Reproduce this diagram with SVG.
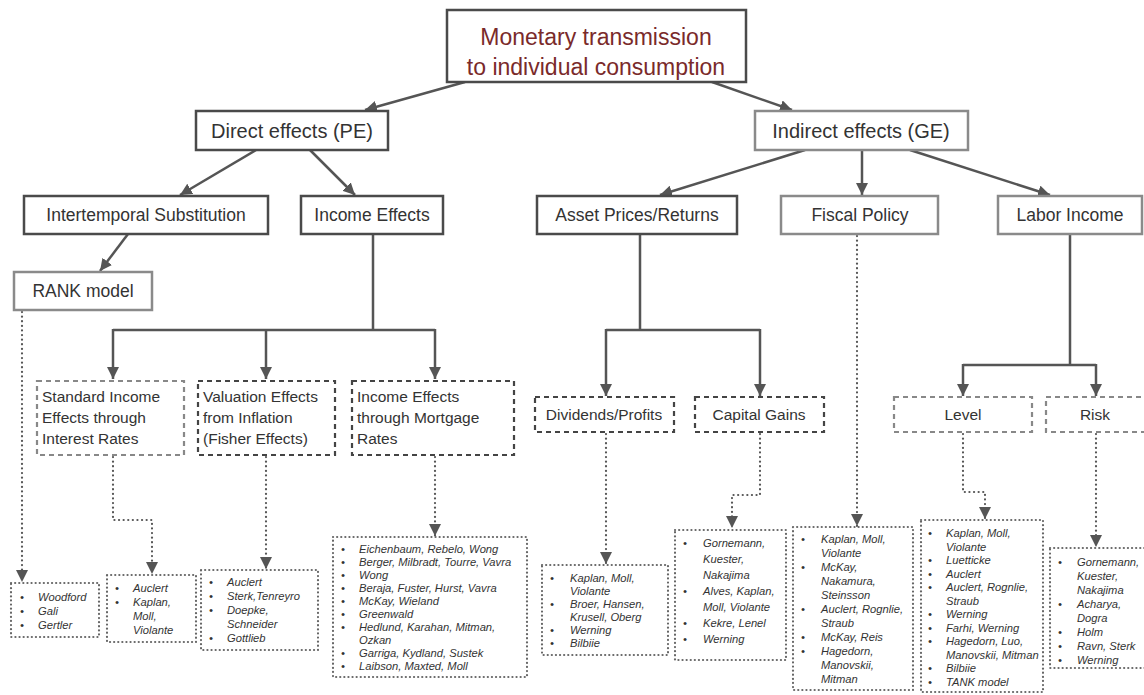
<svg xmlns="http://www.w3.org/2000/svg" width="1144" height="695" viewBox="0 0 1144 695">
<style>
text{font-family:"Liberation Sans",Arial,sans-serif;fill:#333}
.top{font-size:23px;fill:#7a2a2a;text-anchor:middle}
.l1{font-size:20px;text-anchor:middle}
.l2{font-size:17.5px;text-anchor:middle}
.l3{font-size:15.5px}
.c{text-anchor:middle}
.ref{font-size:11.2px;font-style:italic;fill:#505050}
.dark{fill:#fff;stroke:#4a4a4a;stroke-width:2.5}
.light{fill:#fff;stroke:#8a8a8a;stroke-width:2.5}
.dashd{fill:#fff;stroke:#444;stroke-width:2.2;stroke-dasharray:5 4}
.dashl{fill:#fff;stroke:#888;stroke-width:2.2;stroke-dasharray:5 4}
.dot{fill:#fff;stroke:#666;stroke-width:2.2;stroke-dasharray:0.1 4;stroke-linecap:round}
.solid{fill:none;stroke:#555;stroke-width:2.5}
.dotl{fill:none;stroke:#555;stroke-width:2.2;stroke-dasharray:0.1 4.5;stroke-linecap:round}
</style>
<defs>
<marker id="ah" viewBox="0 0 10 10" refX="10" refY="5" markerWidth="12" markerHeight="12" markerUnits="userSpaceOnUse" orient="auto">
<path d="M0,0 L10,5 L0,10 z" fill="#555"/>
</marker>
</defs>
<rect width="1144" height="695" fill="#fff"/>

<g id="connectors">
<line class="solid" x1="465" y1="82" x2="365" y2="110" marker-end="url(#ah)"/>
<line class="solid" x1="712" y1="82" x2="792" y2="110" marker-end="url(#ah)"/>
<line class="solid" x1="256" y1="150" x2="180" y2="195" marker-end="url(#ah)"/>
<line class="solid" x1="310" y1="150" x2="355" y2="195" marker-end="url(#ah)"/>
<line class="solid" x1="128" y1="234" x2="100" y2="271" marker-end="url(#ah)"/>
<line class="solid" x1="805" y1="150" x2="660" y2="195" marker-end="url(#ah)"/>
<line class="solid" x1="862" y1="150" x2="862" y2="195" marker-end="url(#ah)"/>
<line class="solid" x1="910" y1="150" x2="1050" y2="195" marker-end="url(#ah)"/>
<path class="solid" d="M373,234 V330 M113,330 H435"/>
<line class="solid" x1="113" y1="329" x2="113" y2="379" marker-end="url(#ah)"/>
<line class="solid" x1="266" y1="330" x2="266" y2="379" marker-end="url(#ah)"/>
<line class="solid" x1="435" y1="329" x2="435" y2="379" marker-end="url(#ah)"/>
<path class="solid" d="M640,234 V330 M606,330 H760"/>
<line class="solid" x1="606" y1="329" x2="606" y2="396" marker-end="url(#ah)"/>
<line class="solid" x1="760" y1="329" x2="760" y2="396" marker-end="url(#ah)"/>
<path class="solid" d="M1070,234 V365 M963,365 H1096"/>
<line class="solid" x1="963" y1="364" x2="963" y2="396" marker-end="url(#ah)"/>
<line class="solid" x1="1096" y1="364" x2="1096" y2="396" marker-end="url(#ah)"/>
<path class="dotl" d="M22,312 V582" marker-end="url(#ah)"/>
<path class="dotl" d="M113,457 V520 H152 V574" marker-end="url(#ah)"/>
<path class="dotl" d="M266,457 V569" marker-end="url(#ah)"/>
<path class="dotl" d="M435,457 V536" marker-end="url(#ah)"/>
<path class="dotl" d="M606,434 V564" marker-end="url(#ah)"/>
<path class="dotl" d="M760,434 V495 H732 V528" marker-end="url(#ah)"/>
<path class="dotl" d="M857,236 V526" marker-end="url(#ah)"/>
<path class="dotl" d="M963,434 V492 H985 V519" marker-end="url(#ah)"/>
<path class="dotl" d="M1096,434 V547" marker-end="url(#ah)"/>
</g>

<g id="n-root"><rect class="dark" x="447" y="10" width="299" height="72"/>
<text class="top" x="596" y="45">Monetary transmission</text>
<text class="top" x="596" y="75">to individual consumption</text></g>

<g id="n-direct"><rect class="dark" x="196" y="111" width="192" height="39"/><text class="l1" x="292" y="138">Direct effects (PE)</text></g>
<g id="n-indirect"><rect class="light" x="755" y="111" width="213" height="39"/><text class="l1" x="861" y="138">Indirect effects (GE)</text></g>

<g id="n-intertemp"><rect class="dark" x="24" y="196" width="244" height="38"/><text class="l2" x="146" y="221">Intertemporal Substitution</text></g>
<g id="n-income"><rect class="dark" x="301" y="196" width="142" height="38"/><text class="l2" x="372" y="221">Income Effects</text></g>
<g id="n-asset"><rect class="dark" x="537" y="196" width="200" height="38"/><text class="l2" x="637" y="221">Asset Prices/Returns</text></g>
<g id="n-fiscal"><rect class="light" x="781" y="196" width="157" height="38"/><text class="l2" x="860" y="221">Fiscal Policy</text></g>
<g id="n-labor"><rect class="light" x="998" y="196" width="144" height="38"/><text class="l2" x="1070" y="221">Labor Income</text></g>
<g id="n-rank"><rect class="light" x="14" y="272" width="138" height="38"/><text class="l2" x="83" y="297">RANK model</text></g>

<g id="n-standard"><rect class="dashl" x="37" y="381" width="147" height="74"/>
<text class="l3" x="42" y="402">Standard Income</text><text class="l3" x="42" y="423">Effects through</text><text class="l3" x="42" y="444">Interest Rates</text></g>
<g id="n-valuation"><rect class="dashd" x="198" y="381" width="137" height="74"/>
<text class="l3" x="203" y="402">Valuation Effects</text><text class="l3" x="203" y="423">from Inflation</text><text class="l3" x="203" y="444">(Fisher Effects)</text></g>
<g id="n-mortgage"><rect class="dashd" x="352" y="381" width="162" height="74"/>
<text class="l3" x="357" y="402">Income Effects</text><text class="l3" x="357" y="423">through Mortgage</text><text class="l3" x="357" y="444">Rates</text></g>

<g id="n-dividends"><rect class="dashd" x="535" y="397" width="139" height="35"/><text class="l3 c" x="604" y="420">Dividends/Profits</text></g>
<g id="n-capgains"><rect class="dashd" x="695" y="397" width="129" height="35"/><text class="l3 c" x="759" y="420">Capital Gains</text></g>
<g id="n-level"><rect class="dashl" x="894" y="397" width="138" height="35"/><text class="l3 c" x="963" y="420">Level</text></g>
<g id="n-risk"><rect class="dashl" x="1046" y="397" width="100" height="35"/><text class="l3 c" x="1095" y="420">Risk</text></g>

<g id="r-rank"><rect class="dot" x="11" y="583" width="88" height="54"/>
<g class="ref"><text x="20" y="601">•</text><text x="38" y="601">Woodford</text>
<text x="20" y="615">•</text><text x="38" y="615">Gali</text>
<text x="20" y="629">•</text><text x="38" y="629">Gertler</text></g></g>

<g id="r-standard"><rect class="dot" x="107" y="575" width="89" height="67"/>
<g class="ref"><text x="115" y="592">•</text><text x="133" y="592">Auclert</text>
<text x="115" y="606">•</text><text x="133" y="606">Kaplan,</text>
<text x="133" y="620">Moll,</text>
<text x="133" y="634">Violante</text></g></g>

<g id="r-valuation"><rect class="dot" x="201" y="570" width="117" height="80"/>
<g class="ref"><text x="209" y="586">•</text><text x="227" y="586">Auclert</text>
<text x="209" y="600">•</text><text x="227" y="600">Sterk,Tenreyro</text>
<text x="209" y="614">•</text><text x="227" y="614">Doepke,</text>
<text x="227" y="628">Schneider</text>
<text x="209" y="642">•</text><text x="227" y="642">Gottlieb</text></g></g>

<g id="r-mortgage"><rect class="dot" x="333" y="537" width="194" height="140"/>
<g class="ref">
<text x="341" y="553">•</text><text x="359" y="553">Eichenbaum, Rebelo, Wong</text>
<text x="341" y="566">•</text><text x="359" y="566">Berger, Milbradt, Tourre, Vavra</text>
<text x="341" y="579">•</text><text x="359" y="579">Wong</text>
<text x="341" y="592">•</text><text x="359" y="592">Beraja, Fuster, Hurst, Vavra</text>
<text x="341" y="605">•</text><text x="359" y="605">McKay, Wieland</text>
<text x="341" y="618">•</text><text x="359" y="618">Greenwald</text>
<text x="341" y="631">•</text><text x="359" y="631">Hedlund, Karahan, Mitman,</text>
<text x="359" y="644">Ozkan</text>
<text x="341" y="657">•</text><text x="359" y="657">Garriga, Kydland, Sustek</text>
<text x="341" y="670">•</text><text x="359" y="670">Laibson, Maxted, Moll</text></g></g>

<g id="r-dividends"><rect class="dot" x="542" y="565" width="126" height="90"/>
<g class="ref">
<text x="550" y="582">•</text><text x="570" y="582">Kaplan, Moll,</text>
<text x="570" y="595">Violante</text>
<text x="550" y="608">•</text><text x="570" y="608">Broer, Hansen,</text>
<text x="570" y="621">Krusell, Oberg</text>
<text x="550" y="634">•</text><text x="570" y="634">Werning</text>
<text x="550" y="647">•</text><text x="570" y="647">Bilbiie</text></g></g>

<g id="r-capgains"><rect class="dot" x="675" y="530" width="111" height="130"/>
<g class="ref">
<text x="683" y="547">•</text><text x="703" y="547">Gornemann,</text>
<text x="703" y="563">Kuester,</text>
<text x="703" y="579">Nakajima</text>
<text x="683" y="595">•</text><text x="703" y="595">Alves, Kaplan,</text>
<text x="703" y="611">Moll, Violante</text>
<text x="683" y="627">•</text><text x="703" y="627">Kekre, Lenel</text>
<text x="683" y="643">•</text><text x="703" y="643">Werning</text></g></g>

<g id="r-fiscal"><rect class="dot" x="793" y="527" width="120" height="163"/>
<g class="ref">
<text x="801" y="543">•</text><text x="821" y="543">Kaplan, Moll,</text>
<text x="821" y="557">Violante</text>
<text x="801" y="571">•</text><text x="821" y="571">McKay,</text>
<text x="821" y="585">Nakamura,</text>
<text x="821" y="599">Steinsson</text>
<text x="801" y="613">•</text><text x="821" y="613">Auclert, Rognlie,</text>
<text x="821" y="627">Straub</text>
<text x="801" y="641">•</text><text x="821" y="641">McKay, Reis</text>
<text x="801" y="655">•</text><text x="821" y="655">Hagedorn,</text>
<text x="821" y="669">Manovskii,</text>
<text x="821" y="683">Mitman</text></g></g>

<g id="r-level"><rect class="dot" x="921" y="520" width="122" height="172"/>
<g class="ref">
<text x="928" y="537">•</text><text x="946" y="537">Kaplan, Moll,</text>
<text x="946" y="550.5">Violante</text>
<text x="928" y="564">•</text><text x="946" y="564">Luetticke</text>
<text x="928" y="577.5">•</text><text x="946" y="577.5">Auclert</text>
<text x="928" y="591">•</text><text x="946" y="591">Auclert, Rognlie,</text>
<text x="946" y="604.5">Straub</text>
<text x="928" y="618">•</text><text x="946" y="618">Werning</text>
<text x="928" y="631.5">•</text><text x="946" y="631.5">Farhi, Werning</text>
<text x="928" y="645">•</text><text x="946" y="645">Hagedorn, Luo,</text>
<text x="946" y="658.5">Manovskii, Mitman</text>
<text x="928" y="672">•</text><text x="946" y="672">Bilbiie</text>
<text x="928" y="685.5">•</text><text x="946" y="685.5">TANK model</text></g></g>

<g id="r-risk"><rect class="dot" x="1050" y="548" width="96" height="120"/>
<g class="ref">
<text x="1058" y="566">•</text><text x="1077" y="566">Gornemann,</text>
<text x="1077" y="580">Kuester,</text>
<text x="1077" y="594">Nakajima</text>
<text x="1058" y="608">•</text><text x="1077" y="608">Acharya,</text>
<text x="1077" y="622">Dogra</text>
<text x="1058" y="636">•</text><text x="1077" y="636">Holm</text>
<text x="1058" y="650">•</text><text x="1077" y="650">Ravn, Sterk</text>
<text x="1058" y="664">•</text><text x="1077" y="664">Werning</text></g></g>
</svg>
